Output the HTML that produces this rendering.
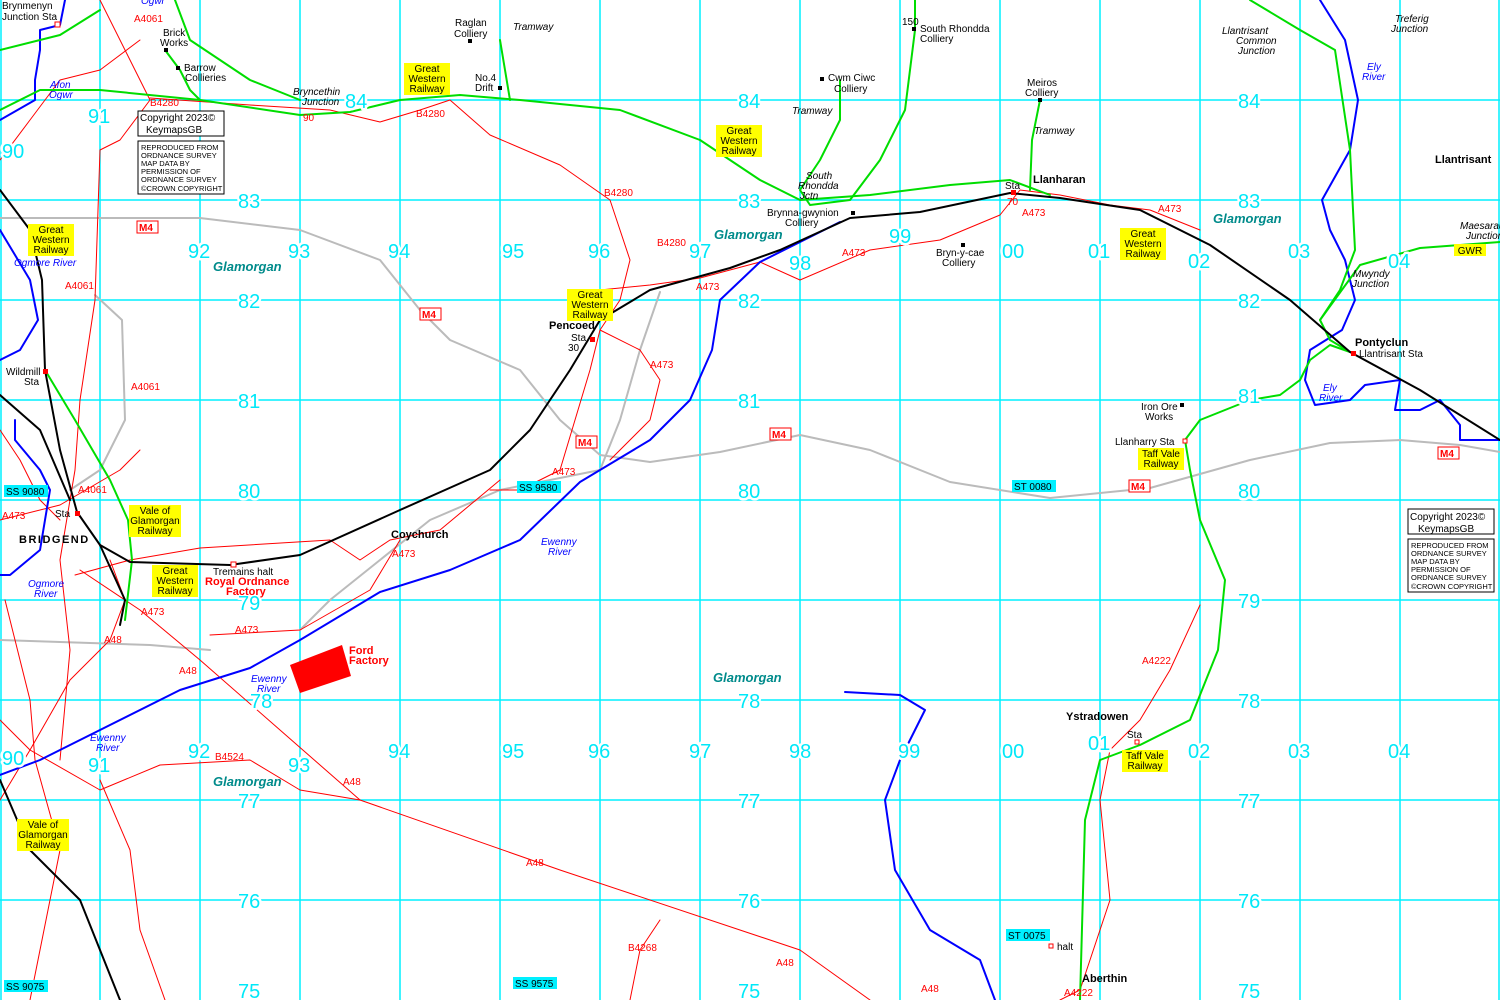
<!DOCTYPE html>
<html><head><meta charset="utf-8"><style>
body{margin:0;background:#fff}
svg{display:block}
text{font-family:"Liberation Sans",sans-serif}
.g{fill:#00e8f8;font-size:20px;stroke:#fff;stroke-width:5px;paint-order:stroke;stroke-linejoin:round}
.t{font-size:10px;fill:#000}
.r{font-size:10px;fill:#f00}
.b{font-size:10px;fill:#00f;font-style:italic}
.i{font-size:10px;font-style:italic;fill:#000}
.gl{font-size:13px;font-weight:bold;font-style:italic;fill:#008b8b}
.pl{font-size:11px;font-weight:bold;fill:#000}
polyline{stroke-linejoin:round;stroke-linecap:round}
</style></head><body>
<svg width="1500" height="1000" viewBox="0 0 1500 1000" xmlns="http://www.w3.org/2000/svg">
<rect width="1500" height="1000" fill="#fff"/>
<g stroke="#00f0ff" stroke-width="1.5">
<line x1="0" y1="100" x2="1500" y2="100"/><line x1="0" y1="200" x2="1500" y2="200"/><line x1="0" y1="300" x2="1500" y2="300"/><line x1="0" y1="400" x2="1500" y2="400"/><line x1="0" y1="500" x2="1500" y2="500"/><line x1="0" y1="600" x2="1500" y2="600"/><line x1="0" y1="700" x2="1500" y2="700"/><line x1="0" y1="800" x2="1500" y2="800"/><line x1="0" y1="900" x2="1500" y2="900"/>
<line x1="1" y1="0" x2="1" y2="1000"/><line x1="100" y1="0" x2="100" y2="1000"/><line x1="200" y1="0" x2="200" y2="1000"/><line x1="300" y1="0" x2="300" y2="1000"/><line x1="400" y1="0" x2="400" y2="1000"/><line x1="500" y1="0" x2="500" y2="1000"/><line x1="600" y1="0" x2="600" y2="1000"/><line x1="700" y1="0" x2="700" y2="1000"/><line x1="800" y1="0" x2="800" y2="1000"/><line x1="900" y1="0" x2="900" y2="1000"/><line x1="1000" y1="0" x2="1000" y2="1000"/><line x1="1100" y1="0" x2="1100" y2="1000"/><line x1="1200" y1="0" x2="1200" y2="1000"/><line x1="1300" y1="0" x2="1300" y2="1000"/><line x1="1400" y1="0" x2="1400" y2="1000"/><line x1="1499" y1="0" x2="1499" y2="1000"/>
</g>
<g fill="none" stroke="#bbb" stroke-width="2">
<polyline points="0,218 200,218 300,230 380,260 420,310 450,340 520,370 560,420 600,455 650,462 720,452 800,435 870,450 950,482 1050,498 1150,488 1250,460 1330,443 1400,440 1460,445 1500,452"/>
<polyline points="660,292 640,350 620,420 600,470 500,490 430,520 380,560 330,600 300,630"/>
<polyline points="95,295 122,320 125,420 100,470 70,490"/>
<polyline points="0,640 150,645 210,650"/>
</g>
<g fill="none" stroke="#f00" stroke-width="1">
<polyline points="150,98 250,105 330,110 380,122 420,110 450,100 490,135 560,165 610,200 630,260 620,300 600,330 590,370 575,420 560,470 520,490 490,490"/>
<polyline points="600,290 650,285 700,278 760,262 800,280 870,250 940,240 1000,215 1020,190 1060,195 1110,205 1150,210 1200,230"/>
<polyline points="100,0 130,60 150,100 120,140 100,150 95,300 80,400 75,470 60,560 70,650 60,760"/>
<polyline points="0,520 60,505 120,470 140,450"/>
<polyline points="75,575 130,560 200,548 330,540 360,560 390,540 440,530 500,480"/>
<polyline points="80,570 140,610 200,660 280,730 360,800 560,870 800,950 870,1000"/>
<polyline points="600,330 640,350 660,380 650,420 610,460"/>
<polyline points="0,720 30,750 100,790 160,765 250,760 300,790 360,800"/>
<polyline points="110,560 125,600 110,640 70,680 30,750 0,800"/>
<polyline points="5,600 30,700 35,760 60,850 30,1000"/>
<polyline points="100,780 130,850 140,930 165,1000"/>
<polyline points="660,920 640,950 630,1000"/>
<polyline points="1200,605 1170,670 1140,720 1110,750 1100,800 1110,900 1080,990 1060,1000"/>
<polyline points="210,635 300,630 370,590 400,540"/>
<polyline points="0,430 20,460 40,500 60,520"/>
<polyline points="0,160 30,120 60,80 100,70 140,40"/>
</g>
<g fill="none" stroke="#00f" stroke-width="2">
<polyline points="0,775 40,760 100,730 180,690 250,668 300,640 380,592 450,570 520,540 580,482 650,440 690,400 712,350 720,300 760,262 840,222"/>
<polyline points="1320,0 1345,40 1358,100 1350,150 1322,200 1330,230 1345,260 1355,300 1342,330 1310,350 1305,380 1315,405 1350,400 1365,385 1400,380 1395,410 1420,410 1440,400 1460,425 1460,440 1500,440"/>
<polyline points="845,692 900,695 925,710 900,760 885,800 895,870 930,930 980,960 995,1000"/>
<polyline points="0,230 30,280 38,320 20,350 0,360"/>
<polyline points="15,420 15,440 40,470 50,490 45,520 40,550 10,575 0,575"/>
<polyline points="65,0 60,25 40,30 40,50 35,80 35,100 0,120"/>
</g>
<g fill="none" stroke="#0d0" stroke-width="2">
<polyline points="0,50 60,35 100,10"/>
<polyline points="0,110 40,90 100,90 200,100 300,115 350,112 400,100 460,95 520,100 620,110 700,140 760,180 800,200 870,195 950,185 1010,180 1050,195"/>
<polyline points="165,50 180,70 190,90 200,100"/>
<polyline points="175,0 190,40 250,80 300,100"/>
<polyline points="500,40 505,70 510,100"/>
<polyline points="840,80 840,120 820,160 800,190 810,205 850,200 880,160 905,110 915,30 915,0"/>
<polyline points="1040,100 1032,140 1030,190"/>
<polyline points="1250,0 1300,30 1335,50 1350,150 1355,250 1340,290 1320,320 1330,340 1350,352"/>
<polyline points="1320,320 1360,265 1420,248 1500,242"/>
<polyline points="1350,352 1330,345 1310,360 1300,380 1280,395 1250,400 1200,420 1185,440 1190,470 1200,520 1225,580 1218,650 1190,720 1140,745 1100,760 1085,820 1080,1000"/>
<polyline points="45,370 75,420 110,480 128,520 132,560 125,620"/>
</g>
<g fill="none" stroke="#000" stroke-width="2">
<polyline points="0,190 30,230 42,280 45,370 60,450 77,512 100,545 130,562 230,565 300,555 400,510 490,470 530,430 570,370 600,320 650,290 730,268 780,250 850,218 920,212 1010,193 1060,198 1140,210 1210,245 1290,300 1350,352 1420,390 1500,440"/>
<polyline points="0,395 40,430 70,500"/>
<polyline points="100,545 125,600 120,625"/>
<polyline points="0,780 30,850 80,900 120,1000"/>
</g>
<polygon points="290,665 342,645 351,676 300,693" fill="#f00"/>
<g class="g">
<text x="88" y="123">91</text><text x="2" y="158">90</text><text x="238" y="208">83</text><text x="188" y="258">92</text><text x="288" y="258">93</text><text x="388" y="258">94</text><text x="502" y="258">95</text><text x="588" y="258">96</text><text x="689" y="258">97</text><text x="789" y="270">98</text><text x="889" y="243">99</text><text x="1002" y="258">00</text><text x="1088" y="258">01</text><text x="1188" y="268">02</text><text x="1288" y="258">03</text><text x="1388" y="268">04</text>
<text x="345" y="108">84</text><text x="738" y="108">84</text><text x="1238" y="108">84</text><text x="738" y="208">83</text><text x="1238" y="208">83</text>
<text x="238" y="308">82</text><text x="738" y="308">82</text><text x="1238" y="308">82</text>
<text x="238" y="408">81</text><text x="738" y="408">81</text><text x="1238" y="403">81</text>
<text x="238" y="498">80</text><text x="738" y="498">80</text><text x="1238" y="498">80</text>
<text x="238" y="610">79</text><text x="1238" y="608">79</text><text x="738" y="708">78</text><text x="1238" y="708">78</text><text x="250" y="708">78</text>
<text x="2" y="765">90</text><text x="88" y="772">91</text><text x="188" y="758">92</text><text x="288" y="772">93</text><text x="388" y="758">94</text><text x="502" y="758">95</text><text x="588" y="758">96</text><text x="689" y="758">97</text><text x="789" y="758">98</text><text x="898" y="758">99</text><text x="1002" y="758">00</text><text x="1088" y="750">01</text><text x="1188" y="758">02</text><text x="1288" y="758">03</text><text x="1388" y="758">04</text>
<text x="238" y="808">77</text><text x="738" y="808">77</text><text x="1238" y="808">77</text><text x="238" y="908">76</text><text x="738" y="908">76</text><text x="1238" y="908">76</text><text x="238" y="998">75</text><text x="738" y="998">75</text><text x="1238" y="998">75</text>
</g>
<g fill="#ff0">
<rect x="28" y="224" width="46" height="32"/><rect x="404" y="63" width="46" height="32"/><rect x="716" y="125" width="46" height="32"/><rect x="567" y="289" width="46" height="32"/><rect x="1120" y="228" width="46" height="32"/><rect x="129" y="505" width="52" height="32"/><rect x="152" y="565" width="46" height="32"/><rect x="1138" y="448" width="46" height="22"/><rect x="1122" y="750" width="46" height="22"/><rect x="17" y="819" width="52" height="32"/><rect x="1454" y="244" width="32" height="12"/>
</g>
<g class="t" text-anchor="middle">
<text x="51" y="233">Great</text><text x="51" y="243">Western</text><text x="51" y="253">Railway</text>
<text x="427" y="72">Great</text><text x="427" y="82">Western</text><text x="427" y="92">Railway</text>
<text x="739" y="134">Great</text><text x="739" y="144">Western</text><text x="739" y="154">Railway</text>
<text x="590" y="298">Great</text><text x="590" y="308">Western</text><text x="590" y="318">Railway</text>
<text x="1143" y="237">Great</text><text x="1143" y="247">Western</text><text x="1143" y="257">Railway</text>
<text x="155" y="514">Vale of</text><text x="155" y="524">Glamorgan</text><text x="155" y="534">Railway</text>
<text x="175" y="574">Great</text><text x="175" y="584">Western</text><text x="175" y="594">Railway</text>
<text x="1161" y="457">Taff Vale</text><text x="1161" y="467">Railway</text>
<text x="1145" y="759">Taff Vale</text><text x="1145" y="769">Railway</text>
<text x="43" y="828">Vale of</text><text x="43" y="838">Glamorgan</text><text x="43" y="848">Railway</text>
<text x="1470" y="254">GWR</text>
</g>
<g fill="#fff" stroke="#f00" stroke-width="1"><rect x="137" y="221" width="21" height="12"/><rect x="420" y="308" width="21" height="12"/><rect x="576" y="436" width="21" height="12"/><rect x="770" y="428" width="21" height="12"/><rect x="1129" y="480" width="21" height="12"/><rect x="1438" y="447" width="21" height="12"/></g>
<g font-size="10" font-weight="bold" fill="#f00" font-family="Liberation Sans"><text x="139" y="231">M4</text><text x="422" y="318">M4</text><text x="578" y="446">M4</text><text x="772" y="438">M4</text><text x="1131" y="490">M4</text><text x="1440" y="457">M4</text></g>
<g fill="#00f0ff"><rect x="4" y="485" width="44" height="12"/><rect x="517" y="481" width="44" height="12"/><rect x="1012" y="480" width="44" height="12"/><rect x="4" y="980" width="44" height="12"/><rect x="513" y="977" width="44" height="12"/><rect x="1006" y="929" width="44" height="12"/></g>
<g class="t"><text x="6" y="495">SS 9080</text><text x="519" y="491">SS 9580</text><text x="1014" y="490">ST 0080</text><text x="6" y="990">SS 9075</text><text x="515" y="987">SS 9575</text><text x="1008" y="939">ST 0075</text></g>
<g fill="#fff" stroke="#000"><rect x="138" y="111" width="86" height="25"/><rect x="138" y="141" width="86" height="53"/><rect x="1408" y="509" width="86" height="25"/><rect x="1408" y="539" width="86" height="53"/></g>
<g class="t"><text x="140" y="121">Copyright 2023©</text><text x="146" y="133">KeymapsGB</text><text x="1410" y="520">Copyright 2023©</text><text x="1418" y="532">KeymapsGB</text></g>
<g font-size="7.5" font-family="Liberation Sans" fill="#000"><text x="141" y="150">REPRODUCED FROM</text><text x="141" y="158">ORDNANCE SURVEY</text><text x="141" y="166">MAP DATA BY</text><text x="141" y="174">PERMISSION OF</text><text x="141" y="182">ORDNANCE SURVEY</text><text x="141" y="191">©CROWN COPYRIGHT</text>
<text x="1411" y="548">REPRODUCED FROM</text><text x="1411" y="556">ORDNANCE SURVEY</text><text x="1411" y="564">MAP DATA BY</text><text x="1411" y="572">PERMISSION OF</text><text x="1411" y="580">ORDNANCE SURVEY</text><text x="1411" y="589">©CROWN COPYRIGHT</text></g>
<g fill="#f00"><rect x="590" y="337" width="5" height="5"/><rect x="43" y="369" width="5" height="5"/><rect x="75" y="511" width="5" height="5"/><rect x="1011" y="190" width="5" height="5"/><rect x="1351" y="351" width="5" height="5"/></g>
<g fill="#fff" stroke="#f00"><rect x="55" y="22" width="5" height="5"/><rect x="231" y="562" width="5" height="5"/><rect x="1183" y="439" width="4" height="4"/><rect x="1135" y="740" width="4" height="4"/><rect x="1049" y="944" width="4" height="4"/></g>
<g fill="#000"><rect x="164" y="48" width="4" height="4"/><rect x="176" y="66" width="4" height="4"/><rect x="468" y="39" width="4" height="4"/><rect x="498" y="86" width="4" height="4"/><rect x="820" y="77" width="4" height="4"/><rect x="912" y="27" width="4" height="4"/><rect x="1038" y="98" width="4" height="4"/><rect x="851" y="211" width="4" height="4"/><rect x="961" y="243" width="4" height="4"/><rect x="1180" y="403" width="4" height="4"/></g>
<g class="t">
<text x="2" y="9">Brynmenyn</text><text x="2" y="20">Junction Sta</text>
<text x="163" y="36">Brick</text><text x="160" y="46">Works</text><text x="184" y="71">Barrow</text><text x="185" y="81">Collieries</text>
<text x="455" y="26">Raglan</text><text x="454" y="37">Colliery</text><text x="475" y="81">No.4</text><text x="475" y="91">Drift</text>
<text x="828" y="81">Cwm Ciwc</text><text x="834" y="92">Colliery</text><text x="902" y="25">150</text><text x="920" y="32">South Rhondda</text><text x="920" y="42">Colliery</text>
<text x="1027" y="86">Meiros</text><text x="1025" y="96">Colliery</text>
<text x="767" y="216">Brynna-gwynion</text><text x="785" y="226">Colliery</text><text x="936" y="256">Bryn-y-cae</text><text x="942" y="266">Colliery</text>
<text x="1005" y="189">Sta</text><text x="1141" y="410">Iron Ore</text><text x="1145" y="420">Works</text><text x="1115" y="445">Llanharry Sta</text>
<text x="1359" y="357">Llantrisant Sta</text><text x="571" y="341">Sta</text><text x="568" y="351">30</text>
<text x="6" y="375">Wildmill</text><text x="24" y="385">Sta</text><text x="55" y="517">Sta</text>
<text x="213" y="575">Tremains halt</text><text x="1127" y="738">Sta</text><text x="1057" y="950">halt</text>
</g>
<g class="r">
<text x="134" y="22">A4061</text><text x="150" y="106">B4280</text><text x="303" y="121">90</text><text x="416" y="117">B4280</text><text x="604" y="196">B4280</text><text x="657" y="246">B4280</text>
<text x="842" y="256">A473</text><text x="696" y="290">A473</text><text x="650" y="368">A473</text><text x="552" y="475">A473</text><text x="1007" y="205">70</text><text x="1022" y="216">A473</text><text x="1158" y="212">A473</text>
<text x="65" y="289">A4061</text><text x="131" y="390">A4061</text><text x="78" y="493">A4061</text><text x="2" y="519">A473</text><text x="392" y="557">A473</text><text x="141" y="615">A473</text><text x="235" y="633">A473</text>
<text x="104" y="643">A48</text><text x="179" y="674">A48</text><text x="343" y="785">A48</text><text x="526" y="866">A48</text><text x="776" y="966">A48</text><text x="921" y="992">A48</text>
<text x="215" y="760">B4524</text><text x="628" y="951">B4268</text><text x="1142" y="664">A4222</text><text x="1064" y="996">A4222</text>
</g>
<g class="b"><text x="50" y="88">Afon</text><text x="49" y="98">Ogwr</text><text x="14" y="266">Ogmore River</text><text x="28" y="587">Ogmore</text><text x="34" y="597">River</text><text x="541" y="545">Ewenny</text><text x="548" y="555">River</text><text x="251" y="682">Ewenny</text><text x="257" y="692">River</text><text x="90" y="741">Ewenny</text><text x="96" y="751">River</text><text x="1367" y="70">Ely</text><text x="1362" y="80">River</text><text x="1323" y="391">Ely</text><text x="1319" y="401">River</text><text x="141" y="4">Ogwr</text></g>
<g class="i"><text x="513" y="30">Tramway</text><text x="792" y="114">Tramway</text><text x="1034" y="134">Tramway</text><text x="806" y="179">South</text><text x="798" y="189">Rhondda</text><text x="800" y="199">Jctn</text><text x="293" y="95">Bryncethin</text><text x="302" y="105">Junction</text><text x="1222" y="34">Llantrisant</text><text x="1236" y="44">Common</text><text x="1238" y="54">Junction</text><text x="1395" y="22">Treferig</text><text x="1391" y="32">Junction</text><text x="1460" y="229">Maesaraul</text><text x="1466" y="239">Junction</text><text x="1353" y="277">Mwyndy</text><text x="1352" y="287">Junction</text></g>
<g class="gl"><text x="213" y="271">Glamorgan</text><text x="714" y="239">Glamorgan</text><text x="1213" y="223">Glamorgan</text><text x="713" y="682">Glamorgan</text><text x="213" y="786">Glamorgan</text></g>
<g class="pl"><text x="549" y="329">Pencoed</text><text x="1033" y="183">Llanharan</text><text x="1435" y="163">Llantrisant</text><text x="1355" y="346">Pontyclun</text><text x="19" y="543" letter-spacing="1.5">BRIDGEND</text><text x="391" y="538">Coychurch</text><text x="1066" y="720">Ystradowen</text><text x="1082" y="982">Aberthin</text></g>
<g font-size="11" font-weight="bold" fill="#f00" font-family="Liberation Sans"><text x="205" y="585">Royal Ordnance</text><text x="226" y="595">Factory</text><text x="349" y="654">Ford</text><text x="349" y="664">Factory</text></g>
</svg>
</body></html>
